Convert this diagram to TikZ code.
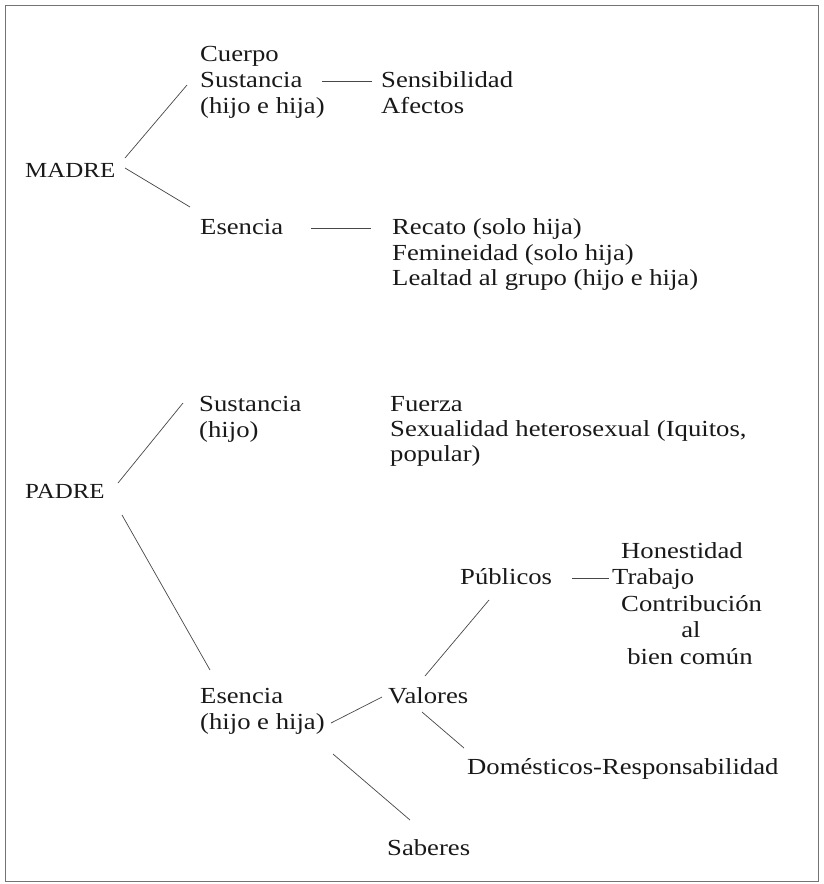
\documentclass[tikz,border=0pt]{standalone}
\usepackage{fontspec}
\setmainfont[FakeStretch=1.16]{Liberation Serif}
\begin{document}
\begin{tikzpicture}[x=1pt,y=-1pt,
  lbl/.style={anchor=base west, inner sep=0pt, font=\fontsize{23}{26}\selectfont, text=black!90},
  lblc/.style={lbl, anchor=base},
  capslbl/.style={lbl, font=\fontsize{21.5}{26}\selectfont},
  conn/.style={draw=black!72, line width=0.7pt},
  frame/.style={draw=black!55, line width=0.6pt}]
\useasboundingbox (0,0) rectangle (823,884);
\draw[frame] (5,5) rectangle (818,881);

% ---------- MADRE ----------
\node[capslbl] (madre) at (25,177) {MADRE};
\node[lbl] (cuerpo) at (200,61) {Cuerpo};
\node[lbl] (sustm) at (200,87) {Sustancia};
\node[lbl] (hijoehijam) at (200,113) {(hijo e hija)};
\node[lbl] (sens) at (381,87) {Sensibilidad};
\node[lbl] (afec) at (381,113) {Afectos};
\node[lbl] (esenm) at (200,234) {Esencia};
\node[lbl] (recato) at (392,234) {Recato (solo hija)};
\node[lbl] (femin) at (392,260) {Femineidad (solo hija)};
\node[lbl] (lealtad) at (392,285) {Lealtad al grupo (hijo e hija)};

\coordinate (mU1) at (125,158); \coordinate (mU2) at (187,85);
\coordinate (mL1) at (125,168); \coordinate (mL2) at (190,207);
\coordinate (dS1) at (322,81);  \coordinate (dS2) at (372,81);
\coordinate (dE1) at (311,228); \coordinate (dE2) at (371,228);
\draw[conn] (mU1) -- (mU2);
\draw[conn] (mL1) -- (mL2);
\draw[conn] (dS1) -- (dS2);
\draw[conn] (dE1) -- (dE2);

% ---------- PADRE ----------
\node[capslbl] (padre) at (25,498) {PADRE};
\node[lbl] (sustp) at (199,411) {Sustancia};
\node[lbl] (hijop) at (199,437) {(hijo)};
\node[lbl] (fuerza) at (390,411) {Fuerza};
\node[lbl] (sexual) at (390,436) {Sexualidad heterosexual (Iquitos,};
\node[lbl] (popular) at (390,461) {popular)};
\node[lbl] (hones) at (621,558) {Honestidad};
\node[lbl] (publ) at (460,584) {Públicos};
\node[lbl] (trab) at (612,584) {Trabajo};
\node[lbl] (contr) at (621,611) {Contribución};
\node[lblc] (al) at (691,637) {al};
\node[lblc] (bien) at (690,664) {bien común};
\node[lbl] (esenp) at (200,703) {Esencia};
\node[lbl] (hijoehijap) at (200,729) {(hijo e hija)};
\node[lbl] (valores) at (388,703) {Valores};
\node[lbl] (domes) at (467,774) {Domésticos-Responsabilidad};
\node[lbl] (saberes) at (387,855) {Saberes};

\coordinate (pU1) at (118,483); \coordinate (pU2) at (183,403);
\coordinate (pL1) at (122,515); \coordinate (pL2) at (210,670);
\coordinate (dP1) at (572,578); \coordinate (dP2) at (609,578);
\coordinate (pv1) at (489,600); \coordinate (pv2) at (425,676);
\coordinate (ev1) at (331,723); \coordinate (ev2) at (382,697);
\coordinate (vd1) at (422,712); \coordinate (vd2) at (464,748);
\coordinate (es1) at (333,754); \coordinate (es2) at (410,820);
\draw[conn] (pU1) -- (pU2);
\draw[conn] (pL1) -- (pL2);
\draw[conn] (dP1) -- (dP2);
\draw[conn] (pv1) -- (pv2);
\draw[conn] (ev1) -- (ev2);
\draw[conn] (vd1) -- (vd2);
\draw[conn] (es1) -- (es2);
\end{tikzpicture}
\end{document}
